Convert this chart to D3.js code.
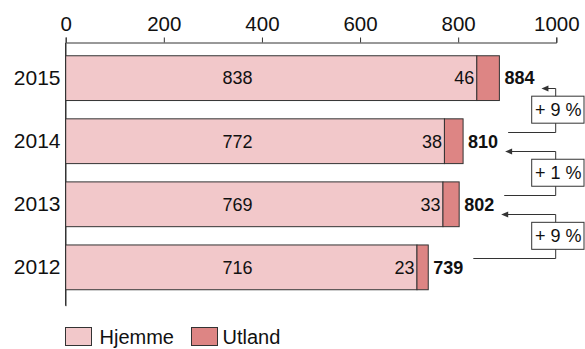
<!DOCTYPE html>
<html>
<head>
<meta charset="utf-8">
<script src="https://cdn.jsdelivr.net/npm/d3@7"></script>
<style>
  html, body { margin: 0; padding: 0; background: #fff; }
  svg { display: block; font-family: "Liberation Sans", Arial, Helvetica, sans-serif; }
</style>
</head>
<body>
<svg id="chart" width="585" height="349"></svg>
<script>
// Years, shown top to bottom
const years = ["2015", "2014", "2013", "2012"];
// Home and abroad values per year
const hjemme = [838, 772, 769, 716];
const utland = [46, 38, 33, 23];
const totals = [884, 810, 802, 739];
// Axis ticks and legend entries
const xTicks = [0, 200, 400, 600, 800, 1000];
const seriesNames = ["Hjemme", "Utland"];

const colHjemme = "#f2c8ca";
const colUtland = "#dd8584";
const ink = "#333";

const svg = d3.select("#chart");

const x = d3.scaleLinear().domain([0, 1000]).range([65.7, 556.3]);
const y = d3.scaleBand().domain(years).range([42.7, 305.7])
  .paddingInner(0.29).paddingOuter(0.23).align(0.45);
const bw = y.bandwidth();

// Top value axis
const xAxis = svg.append("g")
  .attr("transform", "translate(0,42.5)")
  .call(d3.axisTop(x).tickValues(xTicks).tickFormat(d3.format("d"))
    .tickSize(5).tickSizeOuter(5).tickPadding(7));
xAxis.selectAll("text").attr("font-size", 20.5).attr("fill", "#111")
  .style("font-family", "inherit");
xAxis.selectAll("line, path").attr("stroke", ink);

// Left category axis
const yAxis = svg.append("g")
  .attr("transform", "translate(65.5,0)")
  .call(d3.axisLeft(y).tickSize(0).tickSizeOuter(0).tickPadding(5));
yAxis.selectAll("text").attr("font-size", 21).attr("fill", "#111")
  .style("font-family", "inherit");
yAxis.select("path").attr("stroke", ink);

const rows = years.map((yr, i) => ({ yr, h: hjemme[i], u: utland[i], t: totals[i] }));

const g = svg.append("g");

// Stacked bars
g.selectAll("rect.h").data(rows).join("rect")
  .attr("x", x(0)).attr("y", d => y(d.yr))
  .attr("width", d => x(d.h) - x(0)).attr("height", bw)
  .attr("fill", colHjemme).attr("stroke", ink).attr("stroke-width", 1);
g.selectAll("rect.u").data(rows).join("rect")
  .attr("x", d => x(d.h)).attr("y", d => y(d.yr))
  .attr("width", d => x(d.h + d.u) - x(d.h)).attr("height", bw)
  .attr("fill", colUtland).attr("stroke", ink).attr("stroke-width", 1);

// Redraw the axis line on top of the bar edges
svg.append("line").attr("x1", 65.5).attr("x2", 65.5)
  .attr("y1", 42.7).attr("y2", 305.7).attr("stroke", ink);

// Home value labels
g.selectAll("text.h").data(rows).join("text")
  .attr("x", x(350)).attr("y", d => y(d.yr) + bw / 2)
  .attr("dy", "0.35em").attr("text-anchor", "middle")
  .attr("font-size", 18).attr("fill", "#111").text(d => d.h);

// Abroad value labels, just left of the segment
g.selectAll("text.u").data(rows).join("text")
  .attr("x", d => x(d.h) - 2.5).attr("y", d => y(d.yr) + bw / 2)
  .attr("dy", "0.35em").attr("text-anchor", "end")
  .attr("font-size", 18).attr("fill", "#111").text(d => d.u);

// Totals, bold, right of the bar
const totLabels = g.selectAll("text.t").data(rows).join("text")
  .attr("x", d => x(d.t) + 5).attr("y", d => y(d.yr) + bw / 2)
  .attr("dy", "0.35em").attr("text-anchor", "start")
  .attr("font-size", 18).attr("font-weight", "bold").attr("fill", "#111")
  .text(d => d.t);
const labelEnd = [];
totLabels.each(function (d, i) {
  labelEnd[i] = x(d.t) + 5 + this.getComputedTextLength();
});

// Year-on-year change annotations
const connX = 555.7, boxX0 = 531.7, boxX1 = 584, boxH = 27;
for (let i = 0; i < rows.length - 1; i++) {
  const upper = rows[i], lower = rows[i + 1];
  const mid = (y(upper.yr) + bw + y(lower.yr)) / 2;
  const tailY = Math.round(mid + 22) + 0.5;
  const headY = Math.round(mid - 22) + 0.5;
  const tailX = labelEnd[i + 1] + 10;
  const tipX = labelEnd[i] + 7;
  const pct = Math.round((upper.t / lower.t - 1) * 100);

  g.append("path")
    .attr("d", `M${tailX},${tailY}H${connX}V${mid}`)
    .attr("fill", "none").attr("stroke", ink);
  g.append("path")
    .attr("d", `M${connX},${mid}V${headY}H${tipX + 5}`)
    .attr("fill", "none").attr("stroke", ink);
  g.append("path")
    .attr("d", `M${tipX},${headY}L${tipX + 7},${headY - 3}L${tipX + 7},${headY + 3}Z`)
    .attr("fill", ink);

  g.append("rect")
    .attr("x", boxX0).attr("y", mid - boxH / 2)
    .attr("width", boxX1 - boxX0).attr("height", boxH)
    .attr("fill", "#fff").attr("stroke", ink);
  g.append("text")
    .attr("x", (boxX0 + boxX1) / 2 + 0.5).attr("y", mid)
    .attr("dy", "0.36em").attr("text-anchor", "middle")
    .attr("font-size", 18).attr("fill", "#111")
    .text(`+ ${pct} %`);
}

// Legend
const legend = svg.append("g").attr("transform", "translate(65.5,327.5)");
const swatchX = [0, 126];
seriesNames.forEach((name, i) => {
  legend.append("rect")
    .attr("x", swatchX[i]).attr("y", 0).attr("width", 26).attr("height", 18)
    .attr("fill", i === 0 ? colHjemme : colUtland).attr("stroke", ink);
  legend.append("text")
    .attr("x", swatchX[i] + (i === 0 ? 34 : 31)).attr("y", 9)
    .attr("dy", "0.36em").attr("font-size", 20).attr("fill", "#111")
    .text(name);
});
</script>
</body>
</html>
